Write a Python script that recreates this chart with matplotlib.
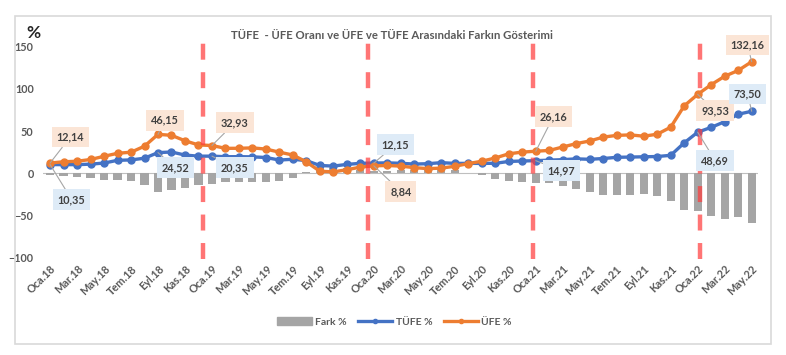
import matplotlib
matplotlib.use("Agg")
import matplotlib.pyplot as plt
from matplotlib.patches import Rectangle
from matplotlib.lines import Line2D
from matplotlib.patches import Patch

plt.rcParams['font.family'] = ['Lato', 'DejaVu Sans']
plt.rcParams['lines.scale_dashes'] = False

# aylar: Oca.18 .. May.22
months = ['Oca', 'Şub', 'Mar', 'Nis', 'May', 'Haz', 'Tem', 'Ağu', 'Eyl', 'Eki', 'Kas', 'Ara']
labels = [f"{m}.{y}" for y in range(18, 23) for m in months][:53]

tufe = [10.35, 10.26, 10.23, 10.85, 12.15, 15.39, 15.85, 17.90, 24.52, 25.24, 21.62, 20.30,
        20.35, 19.67, 19.71, 19.50, 18.71, 15.72, 16.65, 15.01, 9.26, 8.55, 10.56, 11.84,
        12.15, 12.37, 11.86, 10.94, 11.39, 12.62, 11.76, 11.77, 11.75, 11.89, 14.03, 14.60,
        14.97, 15.61, 16.19, 17.14, 16.59, 17.53, 18.95, 19.25, 19.58, 19.89, 21.31, 36.08,
        48.69, 54.44, 61.14, 69.97, 73.50]
ufe = [12.14, 13.71, 14.28, 16.37, 20.16, 23.71, 25.00, 32.13, 46.15, 45.01, 38.54, 33.64,
       32.93, 29.59, 29.64, 30.12, 28.71, 25.04, 21.66, 13.45, 2.45, 1.70, 4.26, 7.36,
       8.84, 9.26, 8.50, 6.71, 5.53, 6.17, 8.33, 11.53, 14.33, 18.20, 23.11, 25.15,
       26.16, 27.09, 31.20, 35.17, 38.33, 42.89, 44.92, 45.52, 43.96, 46.31, 54.62, 79.89,
       93.53, 105.01, 114.97, 121.82, 132.16]
fark = [-1.79, -3.45, -4.05, -5.52, -8.01, -8.32, -9.15, -14.23, -21.63, -19.77, -16.92, -13.34,
        -12.58, -9.92, -9.93, -10.62, -10.00, -9.32, -5.01, 1.56, 6.81, 6.85, 6.30, 4.48,
        3.31, 3.11, 3.36, 4.23, 5.86, 6.45, 3.43, 0.24, -2.58, -6.31, -9.08, -10.55,
        -11.19, -11.48, -15.01, -18.03, -21.74, -25.36, -25.97, -26.27, -24.38, -26.42, -33.31, -43.81,
        -44.84, -50.57, -53.83, -51.85, -58.66]

# kırmızı kesikli çizgilerin yerleri (kategori indeksi)
breaks = [11.3, 23.55, 35.8, 48.2]

BLUE = '#4472C4'
ORANGE = '#ED7D31'
GRAY = '#A5A5A5'
TXT = '#595959'

fig = plt.figure(figsize=(7.86, 3.55), dpi=100)
fig.patches.append(Rectangle((15/786, 1-344/355), 756/786, 328/355, transform=fig.transFigure,
                             fill=False, edgecolor='#D9D9D9', lw=1.2))
ax = fig.add_axes([0.0551, 0.274, 0.9098, 0.5945])

x = list(range(len(labels)))
ax.bar(x, fark, width=0.6, color=GRAY, zorder=2)
ax.axhline(0, color='#BFBFBF', lw=0.8, zorder=1)
ax.plot(x, tufe, color=BLUE, lw=2.4, marker='o', ms=5, zorder=3)
ax.plot(x, ufe, color=ORANGE, lw=2.4, marker='o', ms=5, zorder=3)

for b in breaks:
    ax.plot([b, b], [-101, 158], color='#FF3B3B', alpha=0.7, lw=3.2,
            dashes=(11.5, 9), clip_on=False, zorder=5)

ax.set_xlim(-0.5, len(labels) - 0.5)
ax.set_ylim(-100, 150)
ax.set_yticks([-100, -50, 0, 50, 100, 150])
ax.set_xticks(x[::2])
ax.set_xticklabels(labels[::2], rotation=45, ha='right', rotation_mode='anchor')
ax.tick_params(axis='x', length=0, pad=4, labelsize=7.8, labelcolor=TXT)
ax.tick_params(axis='y', length=0, pad=7, labelsize=7.8, labelcolor=TXT)
for t in ax.get_xticklabels() + ax.get_yticklabels():
    t.set_fontweight('bold')
for s in ax.spines.values():
    s.set_visible(False)

# etiketler: (index, değer, metin x, metin y, seri)
notes = [
    (0, ufe[0], 1.5, 43, 'u'), (0, tufe[0], 1.6, -31, 't'),
    (8, ufe[8], 8.5, 63, 'u'), (8, tufe[8], 9.3, 6.5, 't'),
    (12, ufe[12], 13.7, 60, 'u'), (12, tufe[12], 13.7, 6.5, 't'),
    (24, tufe[24], 25.6, 34, 't'), (24, ufe[24], 26.0, -21.5, 'u'),
    (36, ufe[36], 37.3, 67, 'u'), (36, tufe[36], 37.9, 3, 't'),
    (48, ufe[48], 49.3, 74, 'u'), (48, tufe[48], 49.3, 15, 't'),
    (52, ufe[52], 51.7, 152, 'u'), (52, tufe[52], 51.7, 94, 't'),
]
for i, v, tx, ty, s in notes:
    fc = '#FBE5D6' if s == 'u' else '#DEEBF7'
    ax.annotate(f"{v:.2f}".replace('.', ','), xy=(i, v), xytext=(tx, ty),
                ha='center', va='center', fontsize=7.8, fontweight='bold', color='#404040',
                bbox=dict(boxstyle='square,pad=0.45', fc=fc, ec='none'),
                arrowprops=dict(arrowstyle='-', color='#A6A6A6', lw=0.8, shrinkA=0, shrinkB=0),
                annotation_clip=False, zorder=6)

fig.text(0.499, 0.899, 'TÜFE  - ÜFE Oranı ve ÜFE ve TÜFE Arasındaki Farkın Gösterimi',
         ha='center', va='center', fontsize=8.2, fontweight='bold', color=TXT)
fig.text(0.042, 0.907, '%', ha='center', va='center', fontsize=12.5, fontweight='bold', color='#262626')

handles = [Patch(color=GRAY),
           Line2D([], [], color=BLUE, lw=2.4, marker='o', ms=3),
           Line2D([], [], color=ORANGE, lw=2.4, marker='o', ms=3)]
leg = fig.legend(handles, ['Fark %', 'TÜFE %', 'ÜFE %'], loc='center', bbox_to_anchor=(0.502, 0.093),
                 ncol=3, frameon=False, fontsize=7.5, handlelength=3.3, columnspacing=1.1,
                 handletextpad=0.3)
for t in leg.get_texts():
    t.set_color(TXT)
    t.set_fontweight('bold')

fig.savefig('out.png', dpi=100)
